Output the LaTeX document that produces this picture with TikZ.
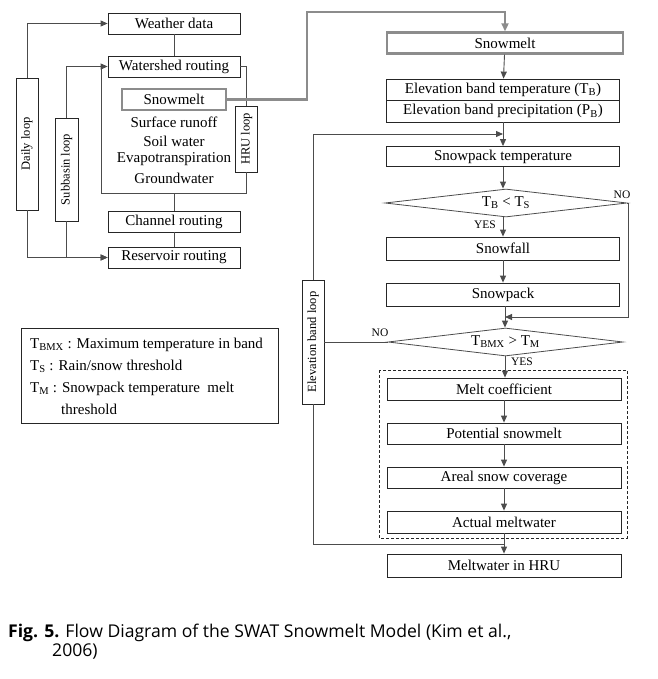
\documentclass[tikz,border=0pt]{standalone}
\usepackage{fontspec}
\setmainfont{Liberation Serif}
\newfontfamily\capfont{Open Sans}
\usetikzlibrary{shapes.geometric,arrows.meta}
\tikzset{
  box/.style={draw=black!85,line width=0.8pt,minimum height=21,inner sep=0,font=\fontsize{15}{18}\selectfont},
  lbox/.style={box,minimum width=132},
  rbox/.style={box,minimum width=233},
  gbox/.style={box,draw=black!45,line width=2.4pt},
  loopbox/.style={draw=black!85,line width=0.8pt,rotate=90,minimum height=22,inner sep=0,font=\fontsize{12.5}{15}\selectfont},
  cond/.style={diamond,draw=black!70,line width=0.8pt,inner sep=0,aspect=8,font=\fontsize{15}{18}\selectfont},
  txt/.style={inner sep=0,font=\fontsize{15}{18}\selectfont},
  lbl/.style={inner sep=0,font=\fontsize{11.5}{14}\selectfont},
  capt/.style={inner sep=0,anchor=base west,font=\capfont\fontsize{17.6}{21}\selectfont},
  line/.style={draw=black!70,line width=0.9pt},
  arr/.style={line,-{Triangle[length=7pt,width=6pt]}},
  groute/.style={draw=black!45,line width=2.4pt,-{Triangle[length=8pt,width=7pt]}}
}
\begin{document}
\begin{tikzpicture}[x=1pt,y=-1pt]
  \useasboundingbox (0,0) rectangle (657,679);
  \draw
    (174,23.5) node[lbox] (weather){Weather data}
    (174,66.5) node[lbox] (watershed){Watershed routing}
    (174,99.5) node[gbox,minimum width=104] (snowL){Snowmelt}
    (174,122) node[txt] (runoff){Surface runoff}
    (174,141) node[txt] (soil){Soil water}
    (174,159.5) node[txt] (evap){Evapotranspiration}
    (174,178) node[txt] (ground){Groundwater}
    (246.5,139) node[loopbox,minimum width=66] (hru){HRU loop}
    (27,144) node[loopbox,minimum width=132] (daily){Daily loop}
    (66.5,169.5) node[loopbox,minimum width=103,minimum height=23] (subbasin){Subbasin loop}
    (174,221.5) node[lbox] (channel){Channel routing}
    (174,257.5) node[lbox] (reservoir){Reservoir routing};
  \draw
    (505,43) node[gbox,minimum width=236] (snowR){Snowmelt}
    (503,89.75) node[rbox,minimum height=21.5] (elevT){Elevation band temperature (T\textsubscript{B})}
    (503,111.25) node[rbox,minimum height=21.5] (elevP){Elevation band precipitation (P\textsubscript{B})}
    (503,156.5) node[rbox,minimum height=20] (spt){Snowpack temperature}
    (506,203) node[cond,minimum width=242,minimum height=28] (test1){T\textsubscript{B} < T\textsubscript{S}}
    (503,248.5) node[rbox,minimum height=23] (snowfall){Snowfall}
    (503,294.5) node[rbox,minimum height=23] (snowpack){Snowpack}
    (505.5,342) node[cond,minimum width=235,minimum height=28] (test2){T\textsubscript{BMX} > T\textsubscript{M}}
    (504,389) node[rbox,minimum width=234,minimum height=22] (melt){Melt coefficient}
    (504,433.5) node[rbox,minimum width=234] (potential){Potential snowmelt}
    (504,477.5) node[rbox,minimum width=234] (areal){Areal snow coverage}
    (504,522) node[rbox,minimum width=234,minimum height=22] (actual){Actual meltwater}
    (504,565.5) node[rbox,minimum width=234,minimum height=23] (hruout){Meltwater in HRU}
    (313,342) node[loopbox,minimum width=124] (eband){Elevation band loop};
  \draw[black!85,line width=0.8pt,dash pattern=on 3pt off 2pt] (379,370) rectangle (627,538);
  \draw
    (485,225) node[lbl] (yes1){YES}
    (622,195) node[lbl] (no1){NO}
    (380,333) node[lbl] (no2){NO}
    (522,362) node[lbl] (yes2){YES};
  \draw[draw=black!85,line width=0.8pt] (21,328) rectangle (278,423);
  \draw
    (30,348) node[txt,anchor=base west] (key1){T\textsubscript{BMX} : Maximum temperature in band}
    (30,370) node[txt,anchor=base west] (key2){T\textsubscript{S} : Rain/snow threshold}
    (30,392) node[txt,anchor=base west] (key3){T\textsubscript{M} : Snowpack temperature\ \ melt}
    (61,414) node[txt,anchor=base west] (key4){threshold};
  \draw
    (8,637) node[capt] (cap1){\textbf{Fig. 5.} Flow Diagram of the SWAT Snowmelt Model (Kim et al.,}
    (52,656) node[capt] (cap2){2006)};
  \coordinate (boxcorner) at (101,193);
  \coordinate (gturn) at (307,12);
  \coordinate (bandin) at (503,134);
  \coordinate (noturn) at (628,317);
  \coordinate (nojoin) at (505,317);
  \coordinate (bandout) at (504,544);
  \begin{scope}[line]
    \draw (weather) to (watershed);
    \draw (watershed.east) -| (hru.east);
    \draw (hru.west) |- (boxcorner) -- (boxcorner |- watershed.west);
    \draw (boxcorner -| channel.north) to (channel);
    \draw (channel) to (reservoir);
    \draw (test2.west) to (eband.south);
    \draw (eband.west) |- (bandout);
  \end{scope}
  \begin{scope}[arr]
    \draw (daily.east) |- (weather.west);
    \draw (daily.west) |- (reservoir.west);
    \draw (subbasin.east) |- (watershed.west);
    \draw (subbasin.west) |- (reservoir.west);
    \draw (snowR) to (elevT);
    \draw (elevP.south -| bandin) to (spt.north -| bandin);
    \draw (eband.east) |- (bandin);
    \draw (spt.south -| bandin) to (test1.north -| bandin);
    \draw (test1.south -| bandin) to (snowfall.north -| bandin);
    \draw (snowfall.south -| bandin) to (snowpack.north -| bandin);
    \draw (test1.east) -| (noturn) to (nojoin);
    \draw (snowpack.south -| nojoin) to (test2.north -| nojoin);
    \draw (test2.south -| nojoin) to (melt.north -| nojoin);
    \draw (melt) to (potential);
    \draw (potential) to (areal);
    \draw (areal) to (actual);
    \draw (actual) to (hruout);
  \end{scope}
  \draw[groute] (snowL.east) -| (gturn) -| (snowR.north);
\end{tikzpicture}
\end{document}
